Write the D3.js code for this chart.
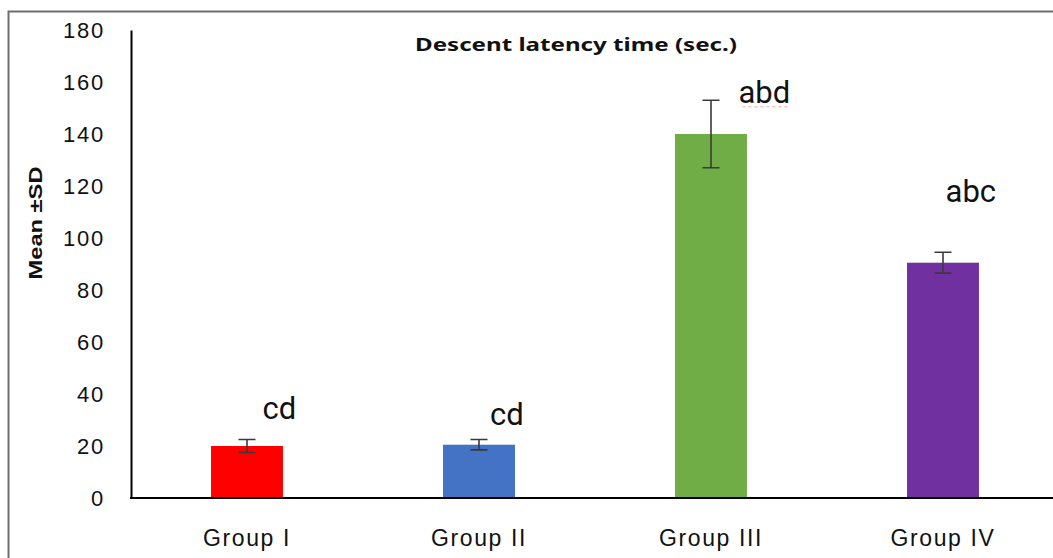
<!DOCTYPE html>
<html>
<head>
<meta charset="utf-8">
<script src="https://cdn.jsdelivr.net/npm/d3@7"></script>
<style>
  body { margin: 0; background: #fff; }
  svg { display: block; }
</style>
</head>
<body>
<div id="chart"></div>
<script>
// data
const groups = ["Group I", "Group II", "Group III", "Group IV"];
const means = [20, 20.5, 140, 90.5];
const sds = [2.5, 2, 13, 4];
const colors = ["#ff0000", "#4472c4", "#70ad47", "#7030a0"];
const letters = ["cd", "cd", "abd", "abc"];
const letterY = [30.5, 28, 152, 114];       // baseline of the letters, in axis units
const letterDx = [0.14, 0.12, 0.23, 0.12];  // offset right of bar centre, share of band
const yTicks = [0, 20, 40, 60, 80, 100, 120, 140, 160, 180];

const width = 1053, height = 558;
const plotLeft = 131, plotTop = 30, plotBottom = 498;

const svg = d3.select("#chart").append("svg")
    .attr("width", width)
    .attr("height", height);

// outer frame (only left and top edges visible)
svg.append("path")
    .attr("d", `M8.5,${height} V11.5 H${width}`)
    .attr("fill", "none")
    .attr("stroke", "#6e6e6e")
    .attr("stroke-width", 2);

const x = d3.scaleBand()
    .domain(groups)
    .range([plotLeft, plotLeft + 4 * 232])
    .paddingInner(0.69)
    .paddingOuter(0.345);

const y = d3.scaleLinear()
    .domain([0, 180])
    .range([plotBottom, plotTop]);

// bars
svg.append("g")
  .selectAll("rect")
  .data(groups)
  .enter().append("rect")
    .attr("x", d => x(d))
    .attr("y", (d, i) => y(means[i]))
    .attr("width", x.bandwidth())
    .attr("height", (d, i) => y(0) - y(means[i]))
    .attr("fill", (d, i) => colors[i]);

// error bars
const err = svg.append("g")
    .attr("stroke", "#3a3a3a")
    .attr("stroke-width", 1.6)
    .attr("fill", "none");

groups.forEach((g, i) => {
    const cx = x(g) + x.bandwidth() / 2;
    const hi = y(means[i] + sds[i]);
    const lo = y(means[i] - sds[i]);
    err.append("path")
        .attr("d", `M${cx},${hi} V${lo} M${cx - 8.5},${hi} H${cx + 8.5} M${cx - 8.5},${lo} H${cx + 8.5}`);
});

// axes
const yAxis = svg.append("g")
    .attr("transform", `translate(${plotLeft},0)`)
    .call(d3.axisLeft(y).tickValues(yTicks).tickSize(0).tickPadding(26));
yAxis.select(".domain").attr("stroke", "#000").attr("stroke-width", 2);
yAxis.selectAll("text")
    .attr("font-family", "Liberation Sans, Arial, sans-serif")
    .attr("font-size", 22)
    .attr("letter-spacing", 1.8)
    .attr("fill", "#111")
    .attr("dy", "0.35em");

svg.append("line")
    .attr("x1", plotLeft - 1).attr("x2", width)
    .attr("y1", plotBottom).attr("y2", plotBottom)
    .attr("stroke", "#000")
    .attr("stroke-width", 2);

// x labels
svg.append("g")
  .selectAll("text")
  .data(groups)
  .enter().append("text")
    .attr("x", d => x(d) + x.bandwidth() / 2)
    .attr("y", 546)
    .attr("text-anchor", "middle")
    .attr("font-family", "Liberation Sans, Arial, sans-serif")
    .attr("font-size", 23)
    .attr("letter-spacing", 1.6)
    .attr("fill", "#111")
    .text(d => d);

// significance letters
svg.append("g")
  .selectAll("text")
  .data(groups)
  .enter().append("text")
    .attr("x", (d, i) => x(d) + x.bandwidth() / 2 + letterDx[i] * x.step())
    .attr("y", (d, i) => y(letterY[i]))
    .attr("text-anchor", "middle")
    .attr("font-family", "Liberation Sans Narrow, Roboto, sans-serif")
    .attr("font-size", 31)
    .attr("fill", "#111")
    .text((d, i) => letters[i]);

// spell-check squiggle under "abd"
const sq = x("Group III") + x.bandwidth() / 2 + letterDx[2] * x.step();
svg.append("line")
    .attr("x1", sq - 22).attr("x2", sq + 24)
    .attr("y1", y(letterY[2]) + 4).attr("y2", y(letterY[2]) + 4)
    .attr("stroke", "#ff6b6b")
    .attr("stroke-width", 1)
    .attr("stroke-dasharray", "3,3")
    .attr("opacity", 0.6);

// title
svg.append("text")
    .attr("x", 576)
    .attr("y", 51)
    .attr("text-anchor", "middle")
    .attr("font-family", "Noto Sans, sans-serif")
    .attr("font-weight", "bold")
    .attr("font-size", 18)
    .attr("textLength", 322)
    .attr("lengthAdjust", "spacingAndGlyphs")
    .attr("fill", "#111")
    .text("Descent latency time (sec.)");

// y title
svg.append("text")
    .attr("transform", "translate(42,223) rotate(-90)")
    .attr("text-anchor", "middle")
    .attr("font-family", "Liberation Sans, Arial, sans-serif")
    .attr("font-weight", "bold")
    .attr("font-size", 19)
    .attr("textLength", 113)
    .attr("lengthAdjust", "spacingAndGlyphs")
    .attr("fill", "#111")
    .text("Mean ±SD");
</script>
</body>
</html>
